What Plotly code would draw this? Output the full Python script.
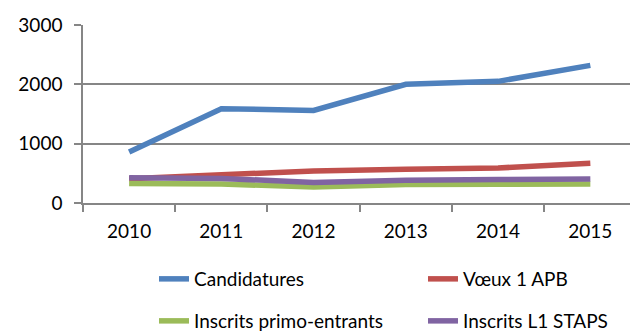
import plotly.graph_objects as go

years = ["2010", "2011", "2012", "2013", "2014", "2015"]
candidatures = [860, 1590, 1560, 2000, 2050, 2320]
voeux = [410, 470, 540, 570, 590, 670]
primo = [330, 320, 270, 310, 315, 320]
l1_staps = [425, 415, 345, 385, 395, 405]

names = ["Candidatures", "Vœux 1 APB", "Inscrits primo-entrants", "Inscrits L1 STAPS"]
colors = ["#4F81BD", "#C0504D", "#9BBB59", "#8064A2"]
series = [candidatures, voeux, primo, l1_staps]
legends = ["legend", "legend2", "legend3", "legend4"]

FONT = "Lato, Carlito, 'Liberation Sans', sans-serif"
W, H = 630, 334

fig = go.Figure()
for name, col, vals, lg in zip(names, colors, series, legends):
    fig.add_trace(go.Scatter(
        x=years, y=vals, name=name, mode="lines",
        line=dict(color=col, width=5.5),
        legend=lg,
    ))


def leg(xpx, ypx):
    return dict(
        xref="container", yref="container",
        x=xpx / W, y=1 - ypx / H,
        xanchor="left", yanchor="middle",
        orientation="h",
        font=dict(family=FONT, size=19, color="#000000"),
        bgcolor="rgba(0,0,0,0)", itemwidth=30,
    )


fig.update_layout(
    width=W, height=H,
    margin=dict(l=83, r=0, t=25, b=131),
    paper_bgcolor="white", plot_bgcolor="white",
    font=dict(family=FONT, size=19, color="#000000"),
    showlegend=True,
    legend=leg(154, 279),
    legend2=leg(423, 279),
    legend3=leg(154, 321),
    legend4=leg(423, 321),
    xaxis=dict(
        type="category", range=[-0.5, 5.43],
        showline=True, linecolor="#868686", linewidth=1.5,
        ticks="outside", ticklen=7, tickcolor="#868686", tickwidth=1.5,
        tickson="boundaries", showgrid=False,
        ticklabelstandoff=10,
        tickfont=dict(family=FONT, size=19),
    ),
    yaxis=dict(
        range=[0, 3000], tickvals=[0, 1000, 2000, 3000],
        showline=True, linecolor="#868686", linewidth=1.5,
        ticks="outside", ticklen=7, tickcolor="#868686", tickwidth=1.5,
        showgrid=True, gridcolor="#868686", gridwidth=1.5,
        zeroline=False, ticklabelstandoff=8,
        tickfont=dict(family=FONT, size=19),
    ),
)

fig.write_html("out.html")
